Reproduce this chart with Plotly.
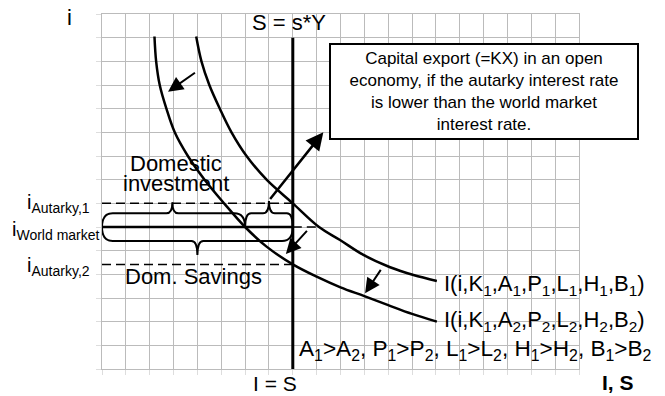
import plotly.graph_objects as go

# ---------------- data (grid units) ----------------
x_max = 20          # investment / savings axis extent
y_max = 15          # interest-rate axis extent

s_x = 8.0           # S = s*Y  (I = S) vertical line
s_top = 14.0

i_autarky1 = 7.0
i_world = 6.0
i_autarky2 = 4.42

# I(i,K1,A1,P1,L1,H1,B1)
I1_x = [3.95, 4.17, 4.5, 4.94, 5.43, 6.06, 6.9, 8.0, 9.1, 9.98, 10.96, 12.08, 13.06, 14.04]
I1_y = [14.05, 13.0, 12.0, 11.0, 10.0, 9.0, 8.0, 7.0, 6.0, 5.45, 4.82, 4.3, 3.97, 3.72]
# I(i,K1,A2,P2,L2,H2,B2)
I2_x = [2.2, 2.27, 2.42, 2.7, 3.05, 3.6, 4.3, 5.12, 6.0, 6.9, 8.0, 9.0, 10.0, 11.0, 12.0, 13.0, 14.04]
I2_y = [14.05, 13.0, 12.0, 11.0, 10.0, 9.0, 8.0, 7.0, 6.0, 5.17, 4.42, 3.9, 3.45, 3.08, 2.7, 2.33, 2.0]

world_dash_end = 9.1   # where the world-market rate meets I1

# shift arrows: (tail_x, tail_y, head_x, head_y)
shift_arrows = [
    (3.96, 12.56, 2.77, 11.72),
    (8.65, 5.9, 7.71, 4.86),
    (11.73, 4.25, 11.03, 3.2),
]
kx_arrow = (7.0, 7.12, 9.28, 10.0)

# braces: x0, x1, base y, middle y, tip x, tip y, corner r
braces = [
    (0.0, 6.0, i_world, 6.58, 2.95, 7.05, 0.45),   # domestic investment
    (6.0, 8.0, i_world, 6.58, 7.0, 7.1, 0.25),     # capital export
    (0.0, 8.0, i_world, 5.41, 4.0, 4.82, 0.45),    # domestic savings
]

box_text = ("Capital export (=KX) in an open<br>economy, if the autarky interest rate"
            "<br>is lower than the world market<br>interest rate.")
box_center = (16.03, 11.73)

FONT = "Liberation Sans, Arial, sans-serif"
LBL = 22

fig = go.Figure()

def line(x, y, width=2.5, dash=None, shape="linear"):
    fig.add_trace(go.Scatter(x=x, y=y, mode="lines", hoverinfo="skip",
                             line=dict(color="black", width=width, dash=dash, shape=shape)))

# dashed interest levels
line([0, s_x], [i_autarky1, i_autarky1], width=1.5, dash="9px,5px")
line([0, s_x], [i_autarky2, i_autarky2], width=1.5, dash="9px,5px")
line([s_x, world_dash_end], [i_world, i_world], width=1.3, dash="9px,5px")
# solid world market rate
line([0, s_x], [i_world, i_world], width=2.5)
# savings line
line([s_x, s_x], [0, s_top], width=3)
# investment curves
line(I1_x, I1_y, width=2.5, shape="spline")
line(I2_x, I2_y, width=2.5, shape="spline")

shapes = []
for (x0, x1, yb, ym, xt, yt, r) in braces:
    rt = 0.25
    path = (f"M {x0},{yb} Q {x0},{ym} {x0 + r},{ym} L {xt - rt},{ym} "
            f"Q {xt},{ym} {xt},{yt} Q {xt},{ym} {xt + rt},{ym} "
            f"L {x1 - r},{ym} Q {x1},{ym} {x1},{yb}")
    shapes.append(dict(type="path", path=path, xref="x", yref="y",
                       line=dict(color="black", width=2)))

ann = []
for (tx, ty, hx, hy) in shift_arrows:
    ann.append(dict(x=hx, y=hy, ax=tx, ay=ty, xref="x", yref="y", axref="x", ayref="y",
                    text="", showarrow=True, arrowhead=2, arrowsize=1.5, arrowwidth=2,
                    arrowcolor="black", standoff=0))
tx, ty, hx, hy = kx_arrow
ann.append(dict(x=hx, y=hy, ax=tx, ay=ty, xref="x", yref="y", axref="x", ayref="y",
                text="", showarrow=True, arrowhead=2, arrowsize=1.4, arrowwidth=2.5,
                arrowcolor="black", standoff=0))

def text(x, y, t, size=LBL, xanchor="center", yanchor="middle", align="center"):
    # paper coordinates derived from the data position so texts outside the range still show
    ann.append(dict(x=x / x_max, y=y / y_max, xref="paper", yref="paper", text=t,
                    showarrow=False, xanchor=xanchor, yanchor=yanchor, align=align,
                    borderpad=0,
                    font=dict(family=FONT, size=size, color="black")))

text(-1.37, 14.87, "i")
text(7.82, 14.66, "S = s*Y")
text(7.25, -0.6, "I = S", size=21)
text(21.62, -0.56, "<b>I, S</b>", size=21)
text(3.1, 8.7, "Domestic")
text(3.1, 7.82, "investment")
text(3.85, 3.9, "Dom. Savings")
text(14.3, 3.55, "I(i,K<sub>1</sub>,A<sub>1</sub>,P<sub>1</sub>,L<sub>1</sub>,H<sub>1</sub>,B<sub>1</sub>)", xanchor="left")
text(14.3, 2.03, "I(i,K<sub>1</sub>,A<sub>2</sub>,P<sub>2</sub>,L<sub>2</sub>,H<sub>2</sub>,B<sub>2</sub>)", xanchor="left")
text(8.21, 0.8, "A<sub>1</sub>&gt;A<sub>2</sub>, P<sub>1</sub>&gt;P<sub>2</sub>, L<sub>1</sub>&gt;L<sub>2</sub>, "
     "H<sub>1</sub>&gt;H<sub>2</sub>, B<sub>1</sub>&gt;B<sub>2</sub>", size=22.6, xanchor="left")
text(-0.48, 7.0, "i<sub>Autarky,1</sub>", size=20, xanchor="right")
text(-0.06, 5.86, "i<sub>World market</sub>", size=20, xanchor="right")
text(-0.48, 4.32, "i<sub>Autarky,2</sub>", size=20, xanchor="right")

ann.append(dict(x=box_center[0], y=box_center[1], xref="x", yref="y", text=box_text,
                showarrow=False, xanchor="center", yanchor="middle", align="center",
                width=306, height=93, bgcolor="white", bordercolor="black",
                borderwidth=2, borderpad=0,
                font=dict(family=FONT, size=17, color="black")))

axis_common = dict(showgrid=True, gridcolor="#bbbbbb", gridwidth=1.3, zeroline=False,
                   showline=True, linecolor="#bbbbbb", linewidth=1.3, mirror=True,
                   showticklabels=False, ticks="outside", ticklen=5, automargin=False,
                   tickcolor="#dddddd", tickwidth=1, tick0=0, dtick=1, fixedrange=True)

fig.update_layout(
    width=665, height=396,
    margin=dict(l=102, r=86, t=14, b=27),
    paper_bgcolor="white", plot_bgcolor="white",
    showlegend=False,
    xaxis=dict(range=[0, x_max], **axis_common),
    yaxis=dict(range=[0, y_max], **axis_common),
    shapes=shapes, annotations=ann,
)

fig.write_html("out.html", config={"displayModeBar": False},
               post_script="document.body.style.margin='0';")
